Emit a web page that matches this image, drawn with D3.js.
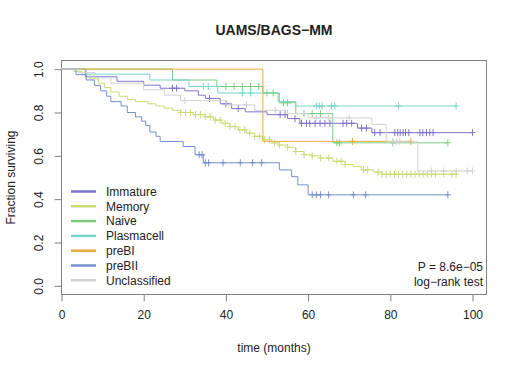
<!DOCTYPE html>
<html>
<head>
<meta charset="utf-8">
<script src="https://cdn.jsdelivr.net/npm/d3@7"></script>
<style>
  body { margin: 0; background: #fff; }
  svg text { font-family: "Liberation Sans", Arial, sans-serif; fill: #222; }
</style>
</head>
<body>
<div id="chart"></div>
<script>

// groups, in legend / drawing order
const groups = ["Immature", "Memory", "Naive", "Plasmacell", "preBI", "preBII", "Unclassified"]
const colors = ["#7d76cc", "#c8dc78", "#7ccd80", "#78d4c8", "#eca842", "#7690cc", "#d2d2d2"]

// Kaplan-Meier steps: [time, survival after event]
const immatureSteps = [[0, 1], [5.8, 0.965], [13.5, 0.944], [20, 0.926], [24, 0.912], [30, 0.9], [33.3, 0.88],
  [35, 0.865], [38.6, 0.84], [41.4, 0.818], [44.7, 0.803], [50, 0.79], [55, 0.772], [58, 0.75], [72, 0.728], [75.5, 0.707]]
const memorySteps = [[0, 1], [3, 0.99], [5, 0.975], [7, 0.955], [9, 0.935], [10.5, 0.915], [12, 0.895], [14, 0.875],
  [16, 0.86], [18, 0.85], [21, 0.84], [23, 0.83], [25, 0.82], [27, 0.81], [29, 0.8], [32, 0.79], [35, 0.78], [37, 0.765],
  [39, 0.75], [41, 0.735], [43, 0.72], [45, 0.705], [47, 0.69], [49, 0.675], [51, 0.66], [53, 0.65], [55, 0.64],
  [57, 0.62], [59, 0.605], [61, 0.6], [63, 0.59], [66, 0.575], [69, 0.56], [71, 0.55], [73, 0.535], [76, 0.525], [78, 0.515]]
const naiveSteps = [[0, 1], [27, 0.95], [37.8, 0.92], [49, 0.89], [53, 0.845], [57, 0.795], [66, 0.66]]
const plasmaSteps = [[0, 1], [6, 0.977], [21.5, 0.95], [31, 0.92], [38, 0.89], [52.7, 0.85], [57, 0.83]]
const preBISteps = [[0, 1], [49, 0.667]]
const preBIISteps = [[0, 1], [3.5, 0.975], [6, 0.95], [8, 0.925], [9.5, 0.9], [11, 0.875], [12, 0.85], [14.5, 0.83],
  [16, 0.8], [18, 0.78], [19.5, 0.76], [20.5, 0.74], [21.5, 0.71], [23, 0.69], [24, 0.666], [29.6, 0.643],
  [32.5, 0.605], [34.5, 0.568], [53, 0.535], [56, 0.504], [57.5, 0.466], [60, 0.42]]
const unclassSteps = [[0, 1], [4, 0.985], [8, 0.96], [12, 0.935], [20, 0.905], [25, 0.88], [29, 0.855], [40, 0.835],
  [47, 0.81], [55, 0.795], [60, 0.775], [75.5, 0.745], [79, 0.665], [86.7, 0.53]]

// censoring times (last one is end of follow-up)
const immatureCens = [27, 28, 36, 40, 43, 53.2, 54.4, 56.8, 58.4, 59.6, 60.4, 61.7, 62.9, 64.1, 65.3, 68.5, 69.4,
  70.6, 73, 74.2, 76.2, 77.5, 81.1, 81.8, 82.4, 83.1, 83.7, 84.5, 87.2, 87.9, 88.8, 89.6, 90.4, 100]
const memoryCens = [29, 30.2, 31.4, 32.6, 33.8, 35, 36.2, 37.4, 38.6, 39.8, 41, 42.2, 43.4, 44.6, 45.8, 47, 48.2,
  49.4, 50.6, 51.8, 53, 55, 57, 59, 61, 63, 65, 67, 68, 69, 73.5, 74.5, 77, 78, 79, 80, 81, 82, 83, 84, 85, 86, 87,
  88, 89, 90, 91, 93, 95, 96]
const naiveCens = [40, 42, 44, 46, 48, 50, 51.5, 54, 55, 59, 61, 63, 67, 67.6, 80.6, 94]
const plasmaCens = [34.5, 35.7, 44, 46, 62, 62.7, 63.4, 65.7, 66.5, 82, 96]
const preBICens = [70.8, 85]
const preBIICens = [33.5, 34.2, 35, 35.8, 39.3, 43.5, 46.5, 48.7, 61, 62, 63, 65, 71, 74, 94]
const unclassCens = [30, 45, 52, 62, 65, 70, 80.6, 81.5, 82.3, 90, 93, 96, 98.7, 100]

const allSteps = [immatureSteps, memorySteps, naiveSteps, plasmaSteps, preBISteps, preBIISteps, unclassSteps]
const allCens = [immatureCens, memoryCens, naiveCens, plasmaCens, preBICens, preBIICens, unclassCens]

const xTicks = [0, 20, 40, 60, 80, 100]
const yTicks = [0, 0.2, 0.4, 0.6, 0.8, 1.0]

// Create SVG
const width = 520
const height = 371
const box = {left: 61.5, right: 486.5, top: 60.5, bottom: 294.5}

const svg = d3.select("#chart")
    .append("svg")
    .attr("width", width)
    .attr("height", height)

const x = d3.scaleLinear()
    .domain([0, 103.4])
    .range([box.left, box.right])

const y = d3.scaleLinear()
    .domain([-0.04, 1.04])
    .range([box.bottom, box.top])

// box
svg.append("rect")
    .attr("x", box.left)
    .attr("y", box.top)
    .attr("width", box.right - box.left)
    .attr("height", box.bottom - box.top)
    .attr("fill", "none")
    .attr("stroke", "#808080")
    .attr("stroke-width", 1)

// axes
const xAxis = svg.append("g")
    .attr("transform", `translate(0, ${box.bottom})`)
    .call(d3.axisBottom(x).tickValues(xTicks).tickFormat(d3.format("d")).tickSize(7).tickSizeOuter(0))
xAxis.select(".domain").attr("d", `M${x(0)},0H${x(100)}`).attr("stroke", "#808080")
xAxis.selectAll(".tick line").attr("stroke", "#808080")
xAxis.selectAll(".tick text").attr("dy", "0").attr("y", 24).style("font-size", "12px").attr("fill", "#222")

const yAxis = svg.append("g")
    .attr("transform", `translate(${box.left}, 0)`)
    .call(d3.axisLeft(y).tickValues(yTicks).tickFormat(d3.format(".1f")).tickSize(7).tickSizeOuter(0))
yAxis.select(".domain").attr("d", `M0,${y(0)}V${y(1)}`).attr("stroke", "#808080")
yAxis.selectAll(".tick line").attr("stroke", "#808080")
yAxis.selectAll(".tick text")
    .attr("x", null).attr("dy", null)
    .attr("text-anchor", "middle")
    .attr("transform", "translate(-19, 0) rotate(-90)")
    .style("font-size", "12px")
    .attr("fill", "#222")

// labels
svg.append("text")
    .attr("x", (box.left + box.right) / 2)
    .attr("y", 35)
    .attr("text-anchor", "middle")
    .style("font-size", "14px")
    .style("font-weight", "bold")
    .text("UAMS/BAGS\u2212MM")

svg.append("text")
    .attr("x", (box.left + box.right) / 2)
    .attr("y", 352)
    .attr("text-anchor", "middle")
    .style("font-size", "12px")
    .text("time (months)")

svg.append("text")
    .attr("transform", `translate(15, ${(y(0) + y(1)) / 2}) rotate(-90)`)
    .attr("text-anchor", "middle")
    .style("font-size", "12px")
    .text("Fraction surviving")

// survival at time t
function survAt(steps, t) {
    let s = 1
    for (const p of steps) if (p[0] <= t) s = p[1]
    return s
}

const line = d3.line()
    .x(d => x(d[0]))
    .y(d => y(d[1]))
    .curve(d3.curveStepAfter)

groups.forEach((g, i) => {
    const steps = allSteps[i]
    const cens = allCens[i]
    const end = d3.max(cens)
    const pts = steps.concat([[end, steps[steps.length - 1][1]]])

    svg.append("path")
        .attr("d", line(pts))
        .attr("fill", "none")
        .attr("stroke", colors[i])
        .attr("stroke-width", 1)

    svg.append("g").selectAll("path")
        .data(cens)
        .enter()
        .append("path")
        .attr("d", t => {
            const cx = x(t), cy = y(survAt(steps, t))
            return `M${cx - 3},${cy}H${cx + 3}M${cx},${cy - 3.5}V${cy + 3.5}`
        })
        .attr("stroke", colors[i])
        .attr("stroke-width", 1)
})

// legend
const legend = svg.append("g")
    .selectAll("g")
    .data(groups)
    .enter()
    .append("g")
    .attr("transform", (d, i) => `translate(71, ${191.5 + i * 14.8})`)

legend.append("line")
    .attr("x1", 0).attr("x2", 25)
    .attr("stroke", (d, i) => colors[i])
    .attr("stroke-width", 2.5)

legend.append("text")
    .attr("x", 35)
    .attr("dy", "0.35em")
    .style("font-size", "12px")
    .text(d => d)

// test result
svg.append("text")
    .attr("x", 483)
    .attr("y", 271)
    .attr("text-anchor", "end")
    .style("font-size", "12px")
    .text("P = 8.6e\u221205")

svg.append("text")
    .attr("x", 483)
    .attr("y", 286)
    .attr("text-anchor", "end")
    .style("font-size", "12px")
    .text("log\u2212rank test")

</script>
</body>
</html>
